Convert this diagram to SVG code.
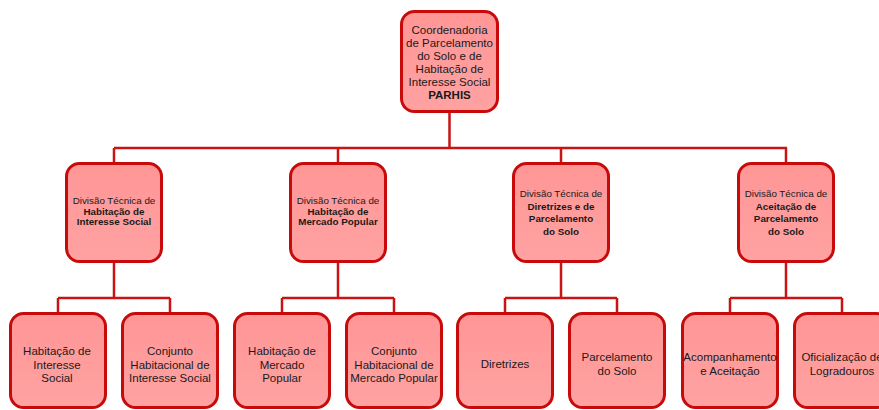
<svg xmlns="http://www.w3.org/2000/svg" width="879" height="410" viewBox="0 0 879 410">
<defs>
<linearGradient id="g" x1="0" y1="0" x2="0" y2="1">
<stop offset="0" stop-color="#FF9696"/>
<stop offset="1" stop-color="#FFA2A2"/>
</linearGradient>
</defs>
<style>
.box{fill:url(#g);stroke:#C80A0A;stroke-width:3}
.c{fill:none;stroke:#C81414;stroke-width:2.5}
text{font-family:"Liberation Sans",Arial,sans-serif;fill:#1a1a1a;text-anchor:middle}
.t{font-size:11.5px}
.m{font-size:9.8px}
.b{font-weight:bold}
</style>
<rect width="879" height="410" fill="#fff"/>
<g id="connectors">
<path class="c" d="M449.5 113V148M114 148H787M114 148V162M338 148V162M561 148V162M786 148V162"/>
<path class="c" d="M114 263V298M58 298H170M58 298V312M170 298V312"/>
<path class="c" d="M338 263V298M282 298H394M282 298V312M394 298V312"/>
<path class="c" d="M561 263V298M505 298H617M505 298V312M617 298V312"/>
<path class="c" d="M786 263V298M730 298H842M730 298V312M842 298V312"/>
</g>
<g id="parhis">
<rect class="box" x="401.5" y="11.5" width="96" height="100" rx="13"/>
<text class="t" x="449.5" y="34">Coordenadoria</text>
<text class="t" x="449.5" y="47">de Parcelamento</text>
<text class="t" x="449.5" y="60">do Solo e de</text>
<text class="t" x="449.5" y="73">Habitação de</text>
<text class="t" x="449.5" y="86">Interesse Social</text>
<text class="t b" x="449.5" y="99">PARHIS</text>
</g>
<g id="div1">
<rect class="box" x="66.5" y="163.5" width="95" height="98" rx="13"/>
<text class="m" x="114" y="204">Divisão Técnica de</text>
<text class="m b" x="114" y="214.5">Habitação de</text>
<text class="m b" x="114" y="225">Interesse Social</text>
</g>
<g id="div2">
<rect class="box" x="290.5" y="163.5" width="95" height="98" rx="13"/>
<text class="m" x="338" y="204">Divisão Técnica de</text>
<text class="m b" x="338" y="214.5">Habitação de</text>
<text class="m b" x="338" y="225">Mercado Popular</text>
</g>
<g id="div3">
<rect class="box" x="513.5" y="163.5" width="95" height="98" rx="13"/>
<text class="m" x="561" y="197">Divisão Técnica de</text>
<text class="m b" x="561" y="209.5">Diretrizes e de</text>
<text class="m b" x="561" y="222">Parcelamento</text>
<text class="m b" x="561" y="234.5">do Solo</text>
</g>
<g id="div4">
<rect class="box" x="738.5" y="163.5" width="95" height="98" rx="13"/>
<text class="m" x="786" y="197">Divisão Técnica de</text>
<text class="m b" x="786" y="209.5">Aceitação de</text>
<text class="m b" x="786" y="222">Parcelamento</text>
<text class="m b" x="786" y="234.5">do Solo</text>
</g>
<g id="his">
<rect class="box" x="10.5" y="313.5" width="95" height="94" rx="13"/>
<text class="t" x="57" y="355">Habitação de</text>
<text class="t" x="57" y="368.5">Interesse</text>
<text class="t" x="57" y="382">Social</text>
</g>
<g id="chis">
<rect class="box" x="122.5" y="313.5" width="95" height="94" rx="13"/>
<text class="t" x="170" y="355">Conjunto</text>
<text class="t" x="170" y="368.5">Habitacional de</text>
<text class="t" x="170" y="382">Interesse Social</text>
</g>
<g id="hmp">
<rect class="box" x="234.5" y="313.5" width="95" height="94" rx="13"/>
<text class="t" x="282" y="355">Habitação de</text>
<text class="t" x="282" y="368.5">Mercado</text>
<text class="t" x="282" y="382">Popular</text>
</g>
<g id="chmp">
<rect class="box" x="346.5" y="313.5" width="95" height="94" rx="13"/>
<text class="t" x="394" y="355">Conjunto</text>
<text class="t" x="394" y="368.5">Habitacional de</text>
<text class="t" x="394" y="382">Mercado Popular</text>
</g>
<g id="diretrizes">
<rect class="box" x="457.5" y="313.5" width="95" height="94" rx="13"/>
<text class="t" x="505" y="368">Diretrizes</text>
</g>
<g id="parcelamento">
<rect class="box" x="569.5" y="313.5" width="95" height="94" rx="13"/>
<text class="t" x="617" y="361">Parcelamento</text>
<text class="t" x="617" y="374.5">do Solo</text>
</g>
<g id="acompanhamento">
<rect class="box" x="682.5" y="313.5" width="95" height="94" rx="13"/>
<text class="t" x="730" y="361">Acompanhamento</text>
<text class="t" x="730" y="374.5">e Aceitação</text>
</g>
<g id="oficializacao">
<rect class="box" x="794.5" y="313.5" width="95" height="94" rx="13"/>
<text class="t" x="842" y="361">Oficialização de</text>
<text class="t" x="842" y="374.5">Logradouros</text>
</g>
</svg>
